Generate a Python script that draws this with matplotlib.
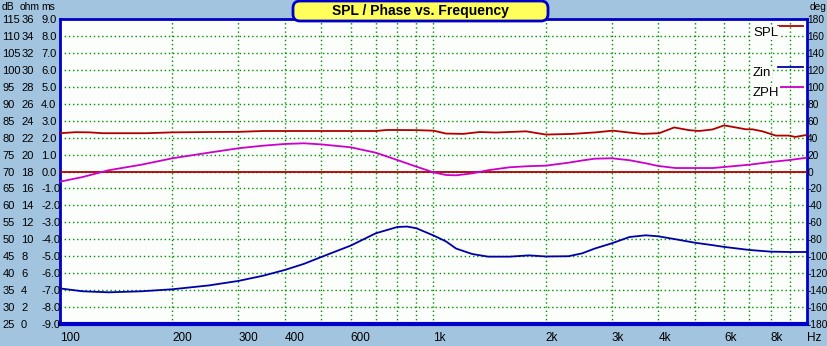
import numpy as np
import matplotlib
matplotlib.use("Agg")
import matplotlib.pyplot as plt
from matplotlib.patches import FancyBboxPatch
from matplotlib.lines import Line2D
from matplotlib.transforms import IdentityTransform

plt.rcParams['font.family'] = ['Liberation Sans Narrow', 'Liberation Sans', 'DejaVu Sans']

# SPL response (dB)
spl_freq = [100, 110, 120, 130, 150, 170, 200, 250, 300, 350, 400, 500, 600, 700,
            750, 800, 900, 1000, 1080, 1200, 1330, 1470, 1770, 2000, 2360, 2720,
            3020, 3340, 3630, 4020, 4410, 4830, 5140, 5580, 6000, 6300, 6860, 7140,
            7600, 8250, 8950, 9300, 10000]
spl_db = [81.3, 81.6, 81.55, 81.3, 81.3, 81.3, 81.55, 81.65, 81.7, 81.95, 81.95, 81.95,
          81.95, 81.95, 82.25, 82.25, 82.2, 82.05, 81.2, 81.1, 81.65, 81.5, 81.85, 80.9,
          81.1, 81.55, 82.05, 81.5, 81.1, 81.3, 83.0, 82.2, 81.95, 82.4, 83.6, 83.2,
          82.45, 82.45, 81.85, 80.6, 80.6, 80.2, 80.8]

# impedance magnitude (ohm) and phase (deg)
z_freq = [100, 115, 135, 165, 200, 250, 300, 350, 400, 450, 500, 600, 700, 800, 850,
          900, 1000, 1080, 1150, 1270, 1400, 1600, 1800, 2000, 2300, 2500, 2700, 3000,
          3350, 3700, 4000, 4450, 5000, 5600, 6000, 7000, 8000, 9000, 10000]
zin_ohm = [4.2, 3.86, 3.74, 3.86, 4.1, 4.55, 5.08, 5.7, 6.38, 7.1, 7.9, 9.25, 10.7,
           11.45, 11.5, 11.3, 10.45, 9.75, 8.9, 8.26, 7.95, 7.95, 8.1, 7.97, 8.0, 8.34,
           8.9, 9.52, 10.27, 10.47, 10.35, 10.0, 9.6, 9.3, 9.1, 8.74, 8.54, 8.5, 8.5]
zph_deg = [-12, -6.5, 1.5, 8, 15.6, 22.2, 27.4, 30.5, 32.5, 33.3, 32, 28.6, 22.2, 13.6,
           9.5, 5.7, -1.0, -4.1, -4.5, -2.2, 1.5, 5, 6.3, 6.9, 10.4, 13, 15.1, 15.6,
           13.3, 9.7, 6.5, 4.1, 4.1, 4.1, 5.3, 8.0, 11.2, 13.6, 16.3]

# axis tick values
db_ticks = list(range(25, 120, 5))
ohm_ticks = list(range(0, 38, 2))
ms_ticks = list(range(-9, 10))
deg_ticks = list(range(-180, 200, 20))
freq_ticks = [100, 200, 300, 400, 600, 1000, 2000, 3000, 4000, 6000, 8000, 10000]
freq_labels = ['100', '200', '300', '400', '600', '1k', '2k', '3k', '4k', '6k', '8k', 'Hz']
grid_freqs = [200, 300, 400, 500, 600, 700, 800, 900, 1000, 2000, 3000, 4000, 5000,
              6000, 7000, 8000, 9000]

BG = '#A2C4DE'
FRAME = '#0000C8'
GRID = '#009000'
RED = '#B00000'
BLUE = '#0000A8'
MAGENTA = '#CC00CC'
W, H = 828, 346
FS = 8

fig = plt.figure(figsize=(W / 100, H / 100), dpi=100, facecolor=BG)
ax = fig.add_axes([60 / W, 22 / H, 747 / W, 305 / H], facecolor='#FBFEFB')
ax.set_xscale('log')
ax.set_xlim(100, 10000)
ax.set_ylim(25, 115)

for side, lw in (('left', 2), ('bottom', 3), ('top', 2), ('right', 2)):
    ax.spines[side].set_color(FRAME)
    ax.spines[side].set_linewidth(lw)

for f in grid_freqs:
    ax.axvline(f, color=GRID, lw=1, ls=(0, (1, 2)), zorder=1)
for d in db_ticks[1:-1]:
    ax.axhline(d, color=GRID, lw=1, ls=(0, (1, 2)), zorder=1)

# left scales: dB, ohm, ms
ax.set_yticks(db_ticks)
ax.set_yticklabels([str(v) for v in db_ticks], fontsize=FS)
ax.tick_params(axis='y', length=0, pad=41.5)
for lab in ax.get_yticklabels():
    lab.set_horizontalalignment('left')


def twin(lo, hi, ticks, labels, side, pad, ha, fs=FS):
    t = ax.twinx()
    t.set_ylim(lo, hi)
    for s in t.spines.values():
        s.set_visible(False)
    t.yaxis.set_ticks_position(side)
    t.set_yticks(ticks)
    t.set_yticklabels(labels, fontsize=fs)
    t.tick_params(axis='y', length=0, pad=pad)
    for lab in t.get_yticklabels():
        lab.set_horizontalalignment(ha)
    return t


ax_z = twin(0, 36, ohm_ticks, [str(v) for v in ohm_ticks], 'left', 28.0, 'left')
ax_ms = twin(-9, 9, ms_ticks, ['%.1f' % v for v in ms_ticks], 'left', 13.5, 'left')
ax_ph = twin(-180, 180, deg_ticks, [str(v) for v in deg_ticks], 'right', 0.2, 'left', fs=7.3)

# frequency axis (set after the twins so the shared axis keeps these labels)
ax.set_xticks(freq_ticks)
ax.set_xticklabels(freq_labels, fontsize=FS + 0.5)
ax.xaxis.set_minor_locator(matplotlib.ticker.NullLocator())
ax.tick_params(axis='x', which='both', length=0, pad=6)
for lab in ax.get_xticklabels():
    lab.set_horizontalalignment('left')

# curves
ax_ph.axhline(0, color=RED, lw=1.3)
ax.plot(spl_freq, spl_db, color=RED, lw=1.3, zorder=3)
ax_z.plot(z_freq, zin_ohm, color=BLUE, lw=1.3)
ax_ph.plot(z_freq, zph_deg, color=MAGENTA, lw=1.3)


# unit headers
def px_text(x, y, s, fs=7.5):
    fig.text(x / W, 1 - y / H, s, va='center', ha='left', fontsize=fs)


px_text(2, 7, 'dB')
px_text(20, 7, 'ohm')
px_text(41, 7, 'ms')
px_text(810, 7, 'deg', fs=7.3)

# legend
for name, color, ty, ly in (('SPL', RED, 33, 26), ('Zin', BLUE, 73, 66.5), ('ZPH', MAGENTA, 93, 86.5)):
    fig.text(753 / W, 1 - ty / H, name, va='center', ha='left', fontsize=FS + 1.5,
             bbox=dict(facecolor='#FBFEFB', edgecolor='none', pad=0.5), zorder=6)
    fig.add_artist(Line2D([778 / W, 803 / W], [1 - ly / H, 1 - ly / H], color=color,
                          lw=1.3, transform=fig.transFigure, zorder=6))

# title box
box = FancyBboxPatch((293, H - 21), 255, 20, boxstyle='round,pad=0,rounding_size=7',
                     facecolor='#FFFF5A', edgecolor=FRAME, lw=2,
                     transform=IdentityTransform(), zorder=7)
fig.add_artist(box)
fig.text(420.5 / W, 1 - 11 / H, 'SPL / Phase vs. Frequency', ha='center', va='center',
         fontsize=10, fontweight='bold', zorder=8)

fig.savefig('out.png', dpi=100, facecolor=BG)
